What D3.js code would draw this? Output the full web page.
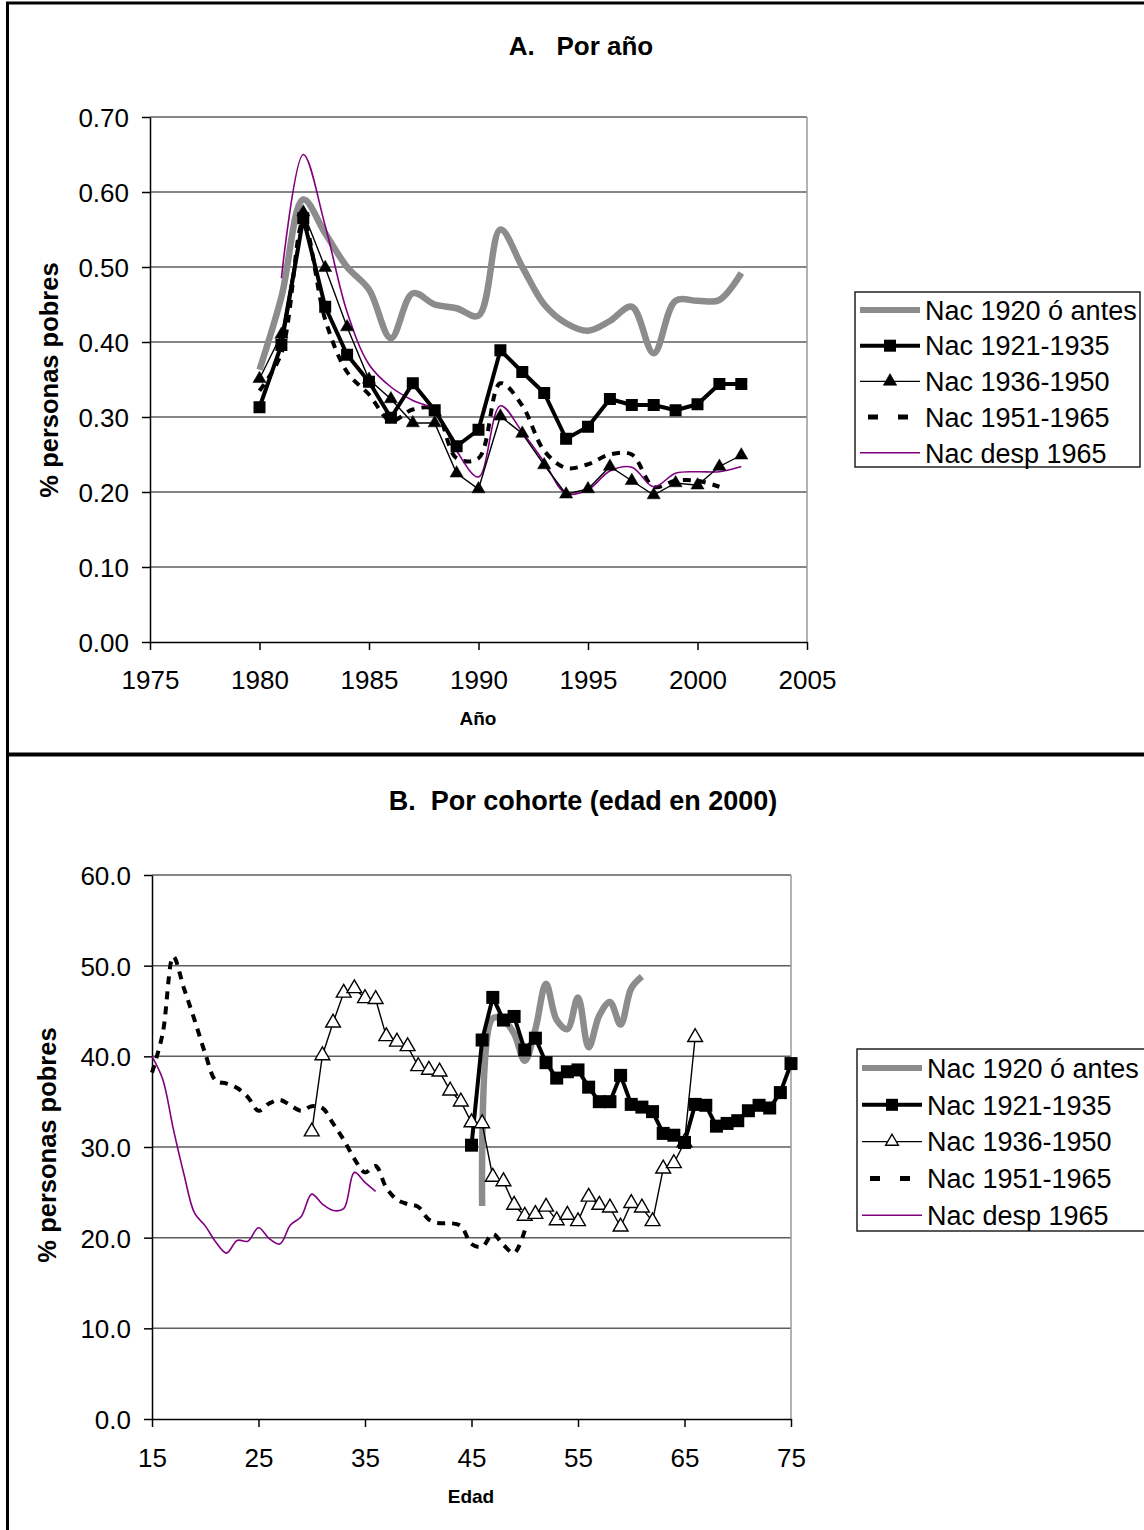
<!DOCTYPE html>
<html>
<head>
<meta charset="utf-8">
<script src="https://cdn.jsdelivr.net/npm/d3@7"></script>
<style>
  html, body { margin: 0; padding: 0; background: #fff; }
  svg { display: block; font-family: "Liberation Sans", Arial, sans-serif; }
</style>
</head>
<body>
<svg id="chart" width="1144" height="1530"></svg>
<script>
// ---------- Panel A: poverty share by survey year ----------
const yearsA = [1980,1981,1982,1983,1984,1985,1986,1987,1988,1989,1990,1991,1992,1993,1994,1995,1996,1997,1998,1999,2000,2001,2002];
const a1920 = [0.363,0.46,0.59,0.545,0.50,0.47,0.405,0.465,0.45,0.445,0.435,0.55,0.50,0.45,0.425,0.415,0.428,0.447,0.385,0.455,0.455,0.456,0.492];
const a1921 = [0.313,0.396,0.565,0.447,0.383,0.347,0.299,0.345,0.309,0.261,0.283,0.389,0.36,0.332,0.271,0.287,0.324,0.316,0.316,0.309,0.317,0.344,0.344];
const a1936 = [0.351,0.41,0.573,0.499,0.42,0.35,0.324,0.292,0.292,0.225,0.204,0.301,0.278,0.236,0.197,0.204,0.234,0.215,0.196,0.212,0.209,0.234,0.249];
const yearsA1951 = [1980,1981,1982,1983,1984,1985,1986,1987,1988,1989,1990,1991,1992,1993,1994,1995,1996,1997,1998,1999,2000,2001];
const a1951 = [0.335,0.385,0.56,0.43,0.36,0.33,0.295,0.31,0.31,0.245,0.245,0.345,0.315,0.255,0.232,0.237,0.25,0.25,0.207,0.215,0.215,0.207];
const yearsA1965 = [1981,1982,1983,1984,1985,1986,1987,1988,1989,1990,1991,1992,1993,1994,1995,1996,1997,1998,1999,2000,2001,2002];
const a1965 = [0.485,0.65,0.555,0.44,0.37,0.34,0.322,0.309,0.255,0.22,0.315,0.28,0.24,0.198,0.203,0.228,0.233,0.207,0.225,0.227,0.227,0.234];
const ticksA_x = [1975,1980,1985,1990,1995,2000,2005];
const ticksA_y = [0.00,0.10,0.20,0.30,0.40,0.50,0.60,0.70];

// ---------- Panel B: poverty share by cohort age ----------
const agesB1920 = [46,47,48,49,50,51,52,53,54,55,56,57,58,59,60,61];
const b1920 = [23.5,44.2,44.0,42.5,39.5,43.0,48.0,44.0,43.0,46.5,41.0,44.5,46.0,43.5,47.5,48.8];
const agesB1921 = [45,46,47,48,49,50,51,52,53,54,55,56,57,58,59,60,61,62,63,64,65,66,67,68,69,70,71,72,73,74,75];
const b1921 = [30.2,41.8,46.5,44.0,44.4,40.7,42.0,39.3,37.6,38.3,38.5,36.6,35.0,35.0,37.9,34.7,34.4,33.9,31.5,31.3,30.5,34.7,34.6,32.3,32.6,32.9,34.0,34.6,34.3,36.0,39.2];
const agesB1936 = [30,31,32,33,34,35,36,37,38,39,40,41,42,43,44,45,46,47,48,49,50,51,52,53,54,55,56,57,58,59,60,61,62,63,64,65,66];
const b1936 = [31.7,40.1,43.7,47.0,47.5,46.4,46.3,42.2,41.6,41.1,38.9,38.5,38.3,36.2,35.0,32.7,32.6,26.7,26.2,23.6,22.4,22.6,23.4,21.9,22.5,21.8,24.5,23.6,23.3,21.2,23.8,23.3,21.8,27.6,28.2,30.5,42.1];
const agesB1951 = [15,16,17,18,19,20,21,22,23,24,25,26,27,28,29,30,31,32,33,34,35,36,37,38,39,40,41,42,43,44,45,46,47,48,49,50];
const b1951 = [38.2,42.5,51.0,47.5,44.0,40.3,37.3,37.0,36.5,35.5,34.0,34.8,35.2,34.6,34.0,34.5,34.3,32.6,30.8,28.7,27.2,27.9,25.5,24.2,23.7,23.4,22.0,21.6,21.6,21.3,19.3,19.0,20.4,19.2,18.3,20.8];
const agesB1965 = [15,16,17,18,19,20,21,22,23,24,25,26,27,28,29,30,31,32,33,34,35,36];
const b1965 = [40.0,37.5,32.0,27.0,22.7,21.3,19.5,18.3,19.7,19.6,21.1,19.9,19.3,21.4,22.3,24.8,23.7,23.0,23.2,27.2,26.1,25.1];
const ticksB_x = [15,25,35,45,55,65,75];
const ticksB_y = [0,10,20,30,40,50,60];

const seriesNames = ["Nac 1920 ó antes","Nac 1921-1935","Nac 1936-1950","Nac 1951-1965","Nac desp 1965"];

const svg = d3.select("#chart");
const TICK_FONT = 26, LEGEND_FONT = 27;
const GRAY = "#8c8c8c", PURPLE = "#800080";

// frame of the figure
const frame = svg.append("g");
frame.append("line").attr("x1",7.5).attr("x2",7.5).attr("y1",2).attr("y2",1530).attr("stroke","#000").attr("stroke-width",3);
frame.append("line").attr("x1",6).attr("x2",1144).attr("y1",3).attr("y2",3).attr("stroke","#000").attr("stroke-width",3);
frame.append("line").attr("x1",6).attr("x2",1144).attr("y1",754.5).attr("y2",754.5).attr("stroke","#000").attr("stroke-width",4);

function pts(xs, ys) { return xs.map((x,i)=>[x, ys[i]]); }

function drawPanel(cfg) {
  const g = svg.append("g");
  const x = d3.scaleLinear().domain(cfg.xDomain).range(cfg.xRange);
  const y = d3.scaleLinear().domain(cfg.yDomain).range(cfg.yRange);
  const [x0,x1] = cfg.xRange, [yb,yt] = cfg.yRange;

  // horizontal gridlines
  g.append("g").selectAll("line").data(cfg.yTicks.filter(v=>v>0)).join("line")
    .attr("x1",x0).attr("x2",x1).attr("y1",d=>y(d)).attr("y2",d=>y(d))
    .attr("stroke","#5e5e5e").attr("stroke-width",1.5);
  // right edge of plot area
  g.append("line").attr("x1",x1).attr("x2",x1).attr("y1",yt).attr("y2",yb)
    .attr("stroke","#9a9a9a").attr("stroke-width",1.5);

  // axes
  const ay = g.append("g").attr("transform",`translate(${x0},0)`)
    .call(d3.axisLeft(y).tickValues(cfg.yTicks).tickFormat(cfg.yFmt).tickSize(8).tickPadding(13).tickSizeOuter(0));
  const ax = g.append("g").attr("transform",`translate(0,${yb})`)
    .call(d3.axisBottom(x).tickValues(cfg.xTicks).tickFormat(d3.format("d")).tickSize(8).tickSizeOuter(0));
  [ay,ax].forEach(a=>{
    a.select(".domain").attr("stroke","#000").attr("stroke-width",1.5);
    a.selectAll(".tick line").attr("stroke","#000").attr("stroke-width",1.5);
    a.selectAll("text").attr("font-size",TICK_FONT).attr("fill","#000").attr("font-family","Liberation Sans, Arial, sans-serif");
  });
  ax.selectAll(".tick text").attr("y",cfg.xLabelDy).attr("dy",0);
  ay.selectAll(".tick text").attr("dy","0.36em");

  // titles
  g.append("text").attr("x",cfg.titleX).attr("y",cfg.titleY).attr("text-anchor","middle")
    .attr("font-size",cfg.titleSize).attr("font-weight","bold").style("white-space","pre").text(cfg.title);
  g.append("text").attr("transform",`translate(${cfg.yTitleX},${cfg.yTitleY}) rotate(-90)`)
    .attr("text-anchor","middle").attr("font-size",25.5).attr("font-weight","bold").text("% personas pobres");
  g.append("text").attr("x",cfg.xTitleX).attr("y",cfg.xTitleY).attr("text-anchor","middle")
    .attr("font-size",19).attr("font-weight","bold").text(cfg.xTitle);

  const smooth = d3.line().x(d=>x(d[0])).y(d=>y(d[1])).curve(d3.curveCatmullRom.alpha(0.5));
  const straight = d3.line().x(d=>x(d[0])).y(d=>y(d[1]));
  const S = cfg.series;

  // oldest cohort: thick gray smoothed
  g.append("path").attr("d",smooth(S[0])).attr("fill","none").attr("stroke",GRAY).attr("stroke-width",6.5).attr("stroke-linejoin","round");
  // 1951-1965: thick dashed smoothed
  g.append("path").attr("d",smooth(S[3])).attr("fill","none").attr("stroke","#000").attr("stroke-width",4).attr("stroke-dasharray","8 7");
  // after 1965: thin purple smoothed
  g.append("path").attr("d",smooth(S[4])).attr("fill","none").attr("stroke",PURPLE).attr("stroke-width",1.6);
  // 1936-1950: thin black with triangles
  g.append("path").attr("d",straight(S[2])).attr("fill","none").attr("stroke","#000").attr("stroke-width",1.4);
  // 1921-1935: thick black with squares
  g.append("path").attr("d",straight(S[1])).attr("fill","none").attr("stroke","#000").attr("stroke-width",4).attr("stroke-linejoin","round");

  const tri = d3.symbol().type(d3.symbolTriangle).size(cfg.triSize);
  g.append("g").selectAll("path").data(S[2]).join("path")
    .attr("d",tri).attr("transform",d=>`translate(${x(d[0])},${y(d[1])})`)
    .attr("fill",cfg.triOpen ? "#fff" : "#000").attr("stroke","#000").attr("stroke-width",cfg.triOpen?1.4:0.5);
  const sq = cfg.sq;
  g.append("g").selectAll("rect").data(S[1]).join("rect")
    .attr("x",d=>x(d[0])-sq/2).attr("y",d=>y(d[1])-sq/2).attr("width",sq).attr("height",sq).attr("fill","#000");

  // legend
  const L = cfg.legend;
  const lg = g.append("g");
  lg.append("rect").attr("x",L.x).attr("y",L.y).attr("width",L.w).attr("height",L.h)
    .attr("fill","#fff").attr("stroke","#222").attr("stroke-width",1.5);
  seriesNames.forEach((name,i)=>{
    const cy = L.y + L.first + i*L.step;
    const sx0 = L.x+5, sx1 = L.x+65, mid = (sx0+sx1)/2;
    if (i===0) lg.append("line").attr("x1",sx0).attr("x2",sx1).attr("y1",cy).attr("y2",cy).attr("stroke",GRAY).attr("stroke-width",6);
    if (i===1) {
      lg.append("line").attr("x1",sx0).attr("x2",sx1).attr("y1",cy).attr("y2",cy).attr("stroke","#000").attr("stroke-width",4);
      lg.append("rect").attr("x",mid-6).attr("y",cy-6).attr("width",12).attr("height",12).attr("fill","#000");
    }
    if (i===2) {
      lg.append("line").attr("x1",sx0).attr("x2",sx1).attr("y1",cy).attr("y2",cy).attr("stroke","#000").attr("stroke-width",1.4);
      lg.append("path").attr("d",d3.symbol().type(d3.symbolTriangle).size(cfg.triOpen?70:80)())
        .attr("transform",`translate(${mid},${cy})`)
        .attr("fill",cfg.triOpen?"#fff":"#000").attr("stroke","#000").attr("stroke-width",cfg.triOpen?1.4:0.5);
    }
    if (i===3) lg.append("line").attr("x1",sx0+8).attr("x2",sx1).attr("y1",cy).attr("y2",cy).attr("stroke","#000").attr("stroke-width",5).attr("stroke-dasharray","10 20");
    if (i===4) lg.append("line").attr("x1",sx0).attr("x2",sx1).attr("y1",cy).attr("y2",cy).attr("stroke",PURPLE).attr("stroke-width",1.6);
    lg.append("text").attr("x",L.x+70).attr("y",cy).attr("dy","0.36em").attr("font-size",LEGEND_FONT).text(name);
  });
}

drawPanel({
  xDomain:[1975,2005], xRange:[150,807], yDomain:[0,0.7], yRange:[642,117],
  xTicks:ticksA_x, yTicks:ticksA_y, yFmt:d3.format(".2f"), xLabelDy:47,
  title:"A.   Por año", titleSize:26, titleX:581, titleY:55, yTitleX:58, yTitleY:380,
  xTitle:"Año", xTitleX:478, xTitleY:725,
  series:[pts(yearsA,a1920), pts(yearsA,a1921), pts(yearsA,a1936), pts(yearsA1951,a1951), pts(yearsA1965,a1965)],
  triSize:75, triOpen:false, sq:12,
  legend:{x:855,y:292,w:285,h:175,first:18,step:35.7}
});

drawPanel({
  xDomain:[15,75], xRange:[152,791], yDomain:[0,60], yRange:[1419,875],
  xTicks:ticksB_x, yTicks:ticksB_y, yFmt:d3.format(".1f"), xLabelDy:48,
  title:"B.  Por cohorte (edad en 2000)", titleSize:27, titleX:583, titleY:810, yTitleX:56, yTitleY:1145,
  xTitle:"Edad", xTitleX:471, xTitleY:1503,
  series:[pts(agesB1920,b1920), pts(agesB1921,b1921), pts(agesB1936,b1936), pts(agesB1951,b1951), pts(agesB1965,b1965)],
  triSize:95, triOpen:true, sq:13,
  legend:{x:857,y:1049,w:290,h:182,first:19,step:36.8}
});
</script>
</body>
</html>
